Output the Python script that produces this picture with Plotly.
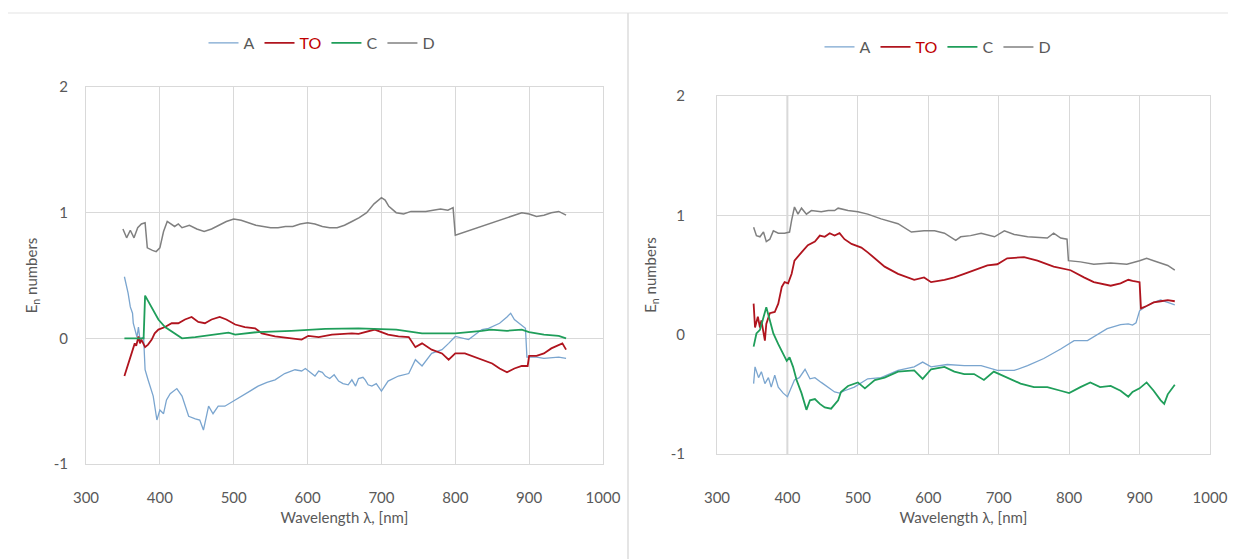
import plotly.graph_objects as go

# ---------------- Left panel data ----------------
L_A_x = [352,357,360,363,364,369,371,373,378,380,384,391,396,400,405,409,414,423,430,439,448,454,459,466,472,479,488,500,511,522,533,545,556,569,583,592,597,606,610,615,620,624,630,636,642,648,655,660,665,669,675,678,682,687,693,700,709,723,737,746,755,768,782,791,800,818,836,845,860,870,875,880,890,895,897,910,920,940,950]
L_A_y = [0.49,0.36,0.25,0.20,0.12,0.01,0.09,-0.01,0.01,-0.25,-0.33,-0.46,-0.65,-0.57,-0.60,-0.49,-0.44,-0.40,-0.46,-0.62,-0.64,-0.65,-0.73,-0.54,-0.60,-0.54,-0.54,-0.50,-0.46,-0.42,-0.38,-0.35,-0.33,-0.28,-0.25,-0.26,-0.24,-0.28,-0.30,-0.26,-0.27,-0.30,-0.32,-0.29,-0.34,-0.36,-0.37,-0.33,-0.38,-0.32,-0.31,-0.33,-0.37,-0.38,-0.36,-0.42,-0.34,-0.30,-0.28,-0.17,-0.22,-0.12,-0.09,-0.04,0.015,-0.01,0.07,0.08,0.12,0.17,0.20,0.15,0.10,0.08,-0.15,-0.15,-0.16,-0.15,-0.16]

L_TO_x = [352,357,362,366,368,371,373,375,380,384,389,393,398,407,416,425,434,443,452,461,470,481,490,502,515,529,538,556,578,592,601,615,633,646,660,669,678,691,700,709,723,737,746,755,768,782,791,800,813,827,840,850,860,870,880,890,898,900,910,920,930,940,945,950]
L_TO_y = [-0.30,-0.20,-0.12,-0.04,-0.06,0.015,-0.04,-0.01,-0.07,-0.05,-0.01,0.04,0.07,0.09,0.12,0.12,0.15,0.17,0.13,0.12,0.15,0.17,0.15,0.11,0.09,0.08,0.04,0.015,0.0,-0.01,0.02,0.01,0.03,0.035,0.04,0.035,0.05,0.07,0.05,0.03,0.015,0.01,-0.07,-0.04,-0.09,-0.12,-0.17,-0.12,-0.12,-0.15,-0.18,-0.20,-0.24,-0.27,-0.24,-0.22,-0.22,-0.14,-0.14,-0.12,-0.08,-0.05,-0.04,-0.09]

L_C_x = [352,378,380,389,398,407,420,430,448,470,484,493,502,533,578,601,624,669,700,720,755,800,836,848,870,890,900,920,940,950]
L_C_y = [0.0,0.0,0.34,0.25,0.15,0.09,0.04,0.0,0.01,0.03,0.04,0.045,0.03,0.05,0.06,0.07,0.075,0.08,0.075,0.07,0.04,0.04,0.06,0.07,0.06,0.07,0.05,0.03,0.02,0.0]

L_D_x = [350,355,360,365,370,375,380,383,390,395,400,405,410,415,420,425,430,440,450,460,470,480,490,500,510,520,530,540,550,560,570,580,590,600,610,620,630,640,650,660,670,680,690,700,705,710,720,730,740,750,760,770,780,790,797,800,810,820,830,840,850,860,870,880,890,900,910,920,930,940,950]
L_D_y = [0.87,0.80,0.86,0.80,0.88,0.91,0.92,0.72,0.70,0.69,0.72,0.85,0.93,0.91,0.89,0.91,0.88,0.90,0.87,0.85,0.87,0.90,0.93,0.95,0.94,0.92,0.90,0.89,0.88,0.88,0.89,0.89,0.91,0.92,0.91,0.89,0.88,0.88,0.90,0.93,0.96,1.00,1.07,1.12,1.10,1.05,1.00,0.99,1.01,1.01,1.01,1.02,1.03,1.02,1.04,0.82,0.84,0.86,0.88,0.90,0.92,0.94,0.96,0.98,1.00,0.99,0.97,0.98,1.00,1.01,0.98]

# ---------------- Right panel data ----------------
R_A_x = [352,354,359,363,368,373,377,382,387,394,400,406,410,417,425,432,439,448,458,467,474,481,495,514,533,557,580,592,604,627,651,675,698,722,741,764,788,807,826,844,854,873,884,890,895,900,910,920,930,940,950]
R_A_y = [-0.41,-0.27,-0.36,-0.31,-0.41,-0.36,-0.44,-0.34,-0.44,-0.49,-0.52,-0.44,-0.38,-0.36,-0.29,-0.37,-0.36,-0.40,-0.44,-0.48,-0.49,-0.47,-0.44,-0.37,-0.36,-0.30,-0.27,-0.23,-0.27,-0.25,-0.26,-0.26,-0.30,-0.30,-0.26,-0.20,-0.12,-0.05,-0.05,0.01,0.05,0.085,0.09,0.08,0.10,0.20,0.24,0.27,0.29,0.27,0.25]

R_TO_x = [352,354,358,361,363,368,370,375,382,387,392,396,401,406,410,415,420,429,439,446,453,460,467,474,481,491,505,514,524,538,557,571,580,594,604,623,637,651,670,684,698,712,736,755,778,802,821,835,859,873,884,890,900,902,910,920,930,940,950]
R_TO_y = [0.26,0.06,0.15,0.06,0.12,-0.05,0.09,0.18,0.19,0.26,0.40,0.44,0.43,0.51,0.62,0.66,0.69,0.75,0.78,0.83,0.82,0.85,0.83,0.85,0.80,0.76,0.73,0.69,0.64,0.57,0.51,0.48,0.46,0.48,0.44,0.46,0.48,0.51,0.55,0.58,0.59,0.64,0.65,0.62,0.57,0.54,0.48,0.44,0.41,0.43,0.46,0.45,0.44,0.22,0.24,0.27,0.28,0.29,0.28]

R_C_x = [352,356,361,366,370,375,380,387,394,399,403,408,413,420,427,432,439,446,453,462,472,476,486,500,510,524,538,557,580,592,604,623,637,651,665,679,693,712,731,750,769,788,800,816,830,844,859,873,884,890,900,910,920,930,935,940,950]
R_C_y = [-0.10,0.01,0.04,0.15,0.23,0.12,0.01,-0.08,-0.16,-0.22,-0.19,-0.27,-0.38,-0.49,-0.63,-0.55,-0.54,-0.58,-0.61,-0.62,-0.55,-0.48,-0.43,-0.40,-0.45,-0.38,-0.36,-0.31,-0.30,-0.37,-0.29,-0.27,-0.31,-0.33,-0.33,-0.38,-0.31,-0.36,-0.41,-0.44,-0.44,-0.47,-0.49,-0.44,-0.40,-0.44,-0.43,-0.47,-0.52,-0.48,-0.45,-0.40,-0.47,-0.55,-0.58,-0.50,-0.42]

R_D_x = [352,356,361,366,370,375,380,387,396,403,406,410,415,420,427,434,448,458,467,472,486,500,514,533,557,576,594,609,623,639,646,660,675,694,708,722,741,769,778,788,797,799,816,835,859,882,900,910,920,930,940,950]
R_D_y = [0.90,0.83,0.82,0.86,0.78,0.80,0.87,0.85,0.85,0.86,0.96,1.07,1.01,1.06,1.01,1.04,1.03,1.04,1.04,1.06,1.04,1.03,1.01,0.97,0.93,0.86,0.87,0.87,0.85,0.79,0.82,0.83,0.85,0.82,0.87,0.84,0.82,0.81,0.85,0.81,0.80,0.62,0.61,0.59,0.60,0.59,0.62,0.64,0.62,0.60,0.58,0.54]

X_TICKS = [300, 400, 500, 600, 700, 800, 900, 1000]
Y_TICKS = [-1, 0, 1, 2]
Y_TICKTEXT = ["-1", "0", "1", "2"]

COL_A = "#7aa5cf"
COL_TO = "#b0141e"
COL_C = "#1f9e5a"
COL_D = "#808080"
TXT = "#595959"
GRID = "#d9d9d9"
FONT = "Lato, 'Open Sans', sans-serif"

# the page body has an 8 px default margin; the figure is sized to fit the window
OFF = 8
W, H = 1236 - OFF, 559 - OFF

def px_x(x):
    return (x - OFF) / W

def px_y(y):
    return 1 - (y - OFF) / H

fig = go.Figure()

def add(xs, ys, name, color, width, xa, ya, leg):
    fig.add_trace(go.Scatter(x=xs, y=ys, mode="lines", name=name,
                             line=dict(color=color, width=width),
                             xaxis=xa, yaxis=ya, legend=leg))

to_name = "<span style='color:#c00000'>TO</span>"
add(L_A_x, L_A_y, "A", COL_A, 1.3, "x", "y", "legend")
add(L_TO_x, L_TO_y, to_name, COL_TO, 1.8, "x", "y", "legend")
add(L_C_x, L_C_y, "C", COL_C, 1.8, "x", "y", "legend")
add(L_D_x, L_D_y, "D", COL_D, 1.5, "x", "y", "legend")

add(R_A_x, R_A_y, "A", COL_A, 1.3, "x2", "y2", "legend2")
add(R_TO_x, R_TO_y, to_name, COL_TO, 1.8, "x2", "y2", "legend2")
add(R_C_x, R_C_y, "C", COL_C, 1.8, "x2", "y2", "legend2")
add(R_D_x, R_D_y, "D", COL_D, 1.5, "x2", "y2", "legend2")

def xaxis(domain, anchor, standoff):
    return dict(domain=domain, anchor=anchor, range=[300, 1000], tickvals=X_TICKS,
                automargin=False,
                showgrid=True, gridcolor=GRID, gridwidth=1, zeroline=False,
                showline=True, linecolor=GRID, linewidth=1, mirror=True,
                ticks="", ticklabelstandoff=standoff,
                tickfont=dict(family=FONT, size=15, color=TXT),
                title=dict(text="Wavelength λ, [nm]", font=dict(family=FONT, size=15, color=TXT), standoff=7))

def yaxis(domain, anchor, standoff, tstand):
    return dict(domain=domain, anchor=anchor, range=[-1, 2], tickvals=Y_TICKS, ticktext=Y_TICKTEXT,
                automargin=False,
                showgrid=True, gridcolor=GRID, gridwidth=1,
                zeroline=True, zerolinecolor=GRID, zerolinewidth=1,
                showline=True, linecolor=GRID, linewidth=1, mirror=True,
                ticks="", ticklabelstandoff=standoff,
                tickfont=dict(family=FONT, size=15, color=TXT),
                title=dict(text="E<sub>n</sub> numbers", font=dict(family=FONT, size=15, color=TXT), standoff=tstand))

fig.update_layout(
    width=W, height=H,
    margin=dict(l=0, r=0, t=0, b=0, autoexpand=False),
    paper_bgcolor="white", plot_bgcolor="white",
    font=dict(family=FONT, color=TXT),
    xaxis=xaxis([px_x(86), px_x(603)], "y", 20),
    yaxis=yaxis([px_y(464), px_y(87)], "x", 14, 12),
    xaxis2=xaxis([px_x(717), px_x(1210)], "y2", 30),
    yaxis2=yaxis([px_y(454), px_y(96)], "x2", 28, 10),
    legend=dict(orientation="h", x=px_x(322), y=px_y(43), xanchor="center", yanchor="middle",
                font=dict(family=FONT, size=16, color=TXT), bgcolor="rgba(0,0,0,0)",
                itemwidth=30, tracegroupgap=0),
    legend2=dict(orientation="h", x=px_x(938), y=px_y(47), xanchor="center", yanchor="middle",
                 font=dict(family=FONT, size=16, color=TXT), bgcolor="rgba(0,0,0,0)",
                 itemwidth=30, tracegroupgap=0),
    showlegend=True,
)

# panel frame lines
fig.add_shape(type="line", xref="paper", yref="paper", x0=0, x1=1, y0=px_y(13), y1=px_y(13),
              line=dict(color="#e3e3e3", width=1))
fig.add_shape(type="line", xref="paper", yref="paper", x0=px_x(628), x1=px_x(628), y0=0, y1=px_y(13),
              line=dict(color="#dcdcdc", width=1.5))
# darker vertical line at 400 in right panel
fig.add_shape(type="line", xref="x2", yref="y2", x0=400, x1=400, y0=-1, y1=2,
              line=dict(color="#b0b0b0", width=1.5), layer="below")

fig.write_html("out.html")
